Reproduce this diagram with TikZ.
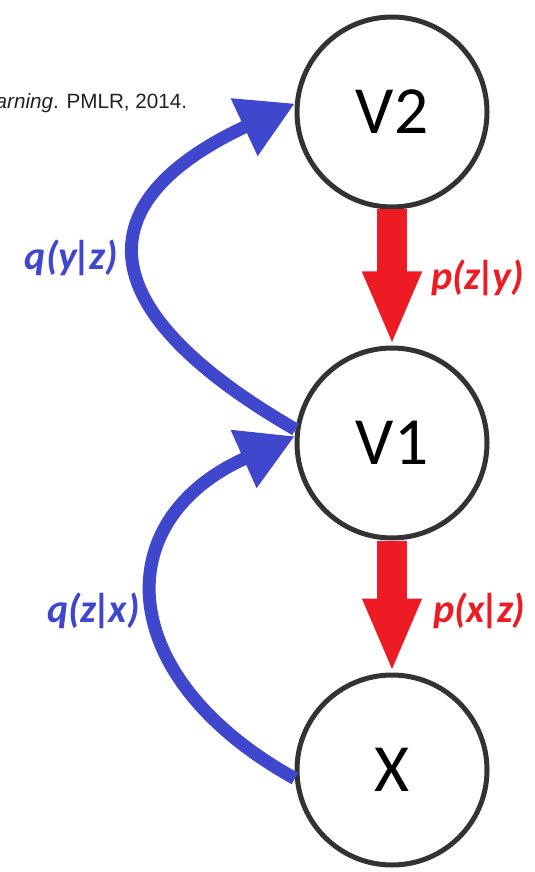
\documentclass[tikz,border=0pt]{standalone}
\usepackage{fontspec}
\setmainfont{Carlito}
\newfontfamily\citefont{Liberation Sans}
\usetikzlibrary{arrows.meta,positioning}
\definecolor{qblue}{RGB}{63,72,204}
\definecolor{pred}{RGB}{237,28,36}
\definecolor{ringgray}{RGB}{51,51,51}
\definecolor{citegray}{RGB}{34,34,34}
\newcommand{\given}{\kern-2.5pt|\kern-2.5pt}
\tikzset{
  var/.style={circle, draw=ringgray, line width=0.125cm, minimum size=4.75cm,
              inner sep=0pt, font=\fontsize{48}{48}\selectfont},
  pflow/.style={-{Triangle[length=1.85cm, width=1.35cm]}, line width=0.75cm, draw=pred},
  qflow/.style={-{Triangle[length=1.4cm, width=1.5cm]}, line width=0.325cm, draw=qblue},
  plabel/.style={inner sep=0pt, text=pred, font=\fontsize{28.5}{28.5}\selectfont\bfseries\itshape},
  qlabel/.style={inner sep=0pt, text=qblue, font=\fontsize{28.5}{28.5}\selectfont\bfseries\itshape},
}
\begin{document}
\begin{tikzpicture}
    \useasboundingbox (0,0) rectangle (13.375,-21.8);
    % cut-off reference line at the top
    \node[anchor=base west, inner sep=0pt, text=citegray, font=\citefont\fontsize{14.7}{17}\selectfont]
      (cite) at (-0.115,-2.725) {\textit{arning}. PMLR, 2014.};
    % variables
    \node[var] (V2) at (9.8,-2.8) {V2};
    \node[var, below=3.4cm of V2] (V1) {V1};
    \node[var, below=3.3cm of V1] (X) {X};
    % generative direction
    \draw[pflow] (V2.south) -- node[right=0.6cm, plabel] {p(z\given y)} (V1.north);
    \draw[pflow] (V1.south) -- node[right=0.65cm, yshift=-0.1cm, plabel] {p(x\given z)} (X.north);
    % inference direction
    \draw[qflow] (V1.172) to[out=150, in=205, looseness=1.85] node[left=0.35cm, yshift=0.05cm, qlabel] {q(y\given z)} (V2.175);
    \draw[qflow] (X.185) to[out=151, in=204, looseness=1.55] node[left=0.25cm, yshift=-0.25cm, qlabel] {q(z\given x)} (V1.176);
  \end{tikzpicture}
\end{document}
